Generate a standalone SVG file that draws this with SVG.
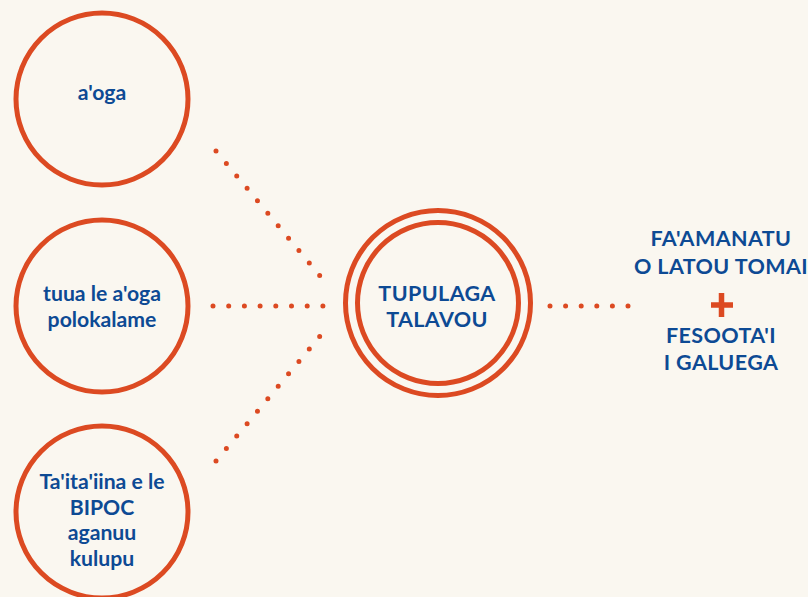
<svg xmlns="http://www.w3.org/2000/svg" width="808" height="597" viewBox="0 0 808 597">
<style>
.ring{fill:none;stroke:#dc4a22;stroke-width:5}
.t{font-family:Lato,"Liberation Sans",sans-serif;font-weight:700;font-size:21.2px;fill:#0d4a94;text-anchor:middle}
.u{font-size:21.5px;letter-spacing:0.4px}
.dots{fill:none;stroke:#dc4a22;stroke-width:5;stroke-linecap:round}
</style>
<rect width="808" height="597" fill="#faf7f0"/>
<g id="connectors">
<path class="dots" d="M216 151L320.5 276.5" stroke-dasharray="0 16.2"/>
<path class="dots" d="M213 306L323.5 306" stroke-dasharray="0 15.7"/>
<path class="dots" d="M216 461L320.5 335.5" stroke-dasharray="0 16.2"/>
<path class="dots" d="M550 306L628.5 306" stroke-dasharray="0 15.6"/>
</g>
<g id="node-aoga">
<circle class="ring" cx="102" cy="99" r="86"/>
<text class="t" x="102" y="100">a'oga</text>
</g>
<g id="node-tuua">
<circle class="ring" cx="102" cy="306" r="86"/>
<text class="t" x="102" y="301">tuua le a'oga</text>
<text class="t" x="102" y="327">polokalame</text>
</g>
<g id="node-taitaiina">
<circle class="ring" cx="102" cy="512" r="86"/>
<text class="t" x="102" y="489">Ta'ita'iina e le</text>
<text class="t" x="102" y="515">BIPOC</text>
<text class="t" x="102" y="540">aganuu</text>
<text class="t" x="102" y="566">kulupu</text>
</g>
<g id="node-tupulaga">
<circle class="ring" cx="438" cy="303" r="92.5"/>
<circle class="ring" cx="438" cy="303" r="80.5"/>
<text class="t u" x="437" y="301">TUPULAGA</text>
<text class="t u" x="437" y="327">TALAVOU</text>
</g>
<g id="node-outcome">
<text class="t u" x="721" y="246">FA'AMANATU</text>
<text class="t u" x="721" y="274">O LATOU TOMAI</text>
<path d="M711 305H733M721.5 293V317" stroke="#dc4a22" stroke-width="5.5" fill="none"/>
<text class="t u" x="721" y="343">FESOOTA'I</text>
<text class="t u" x="721" y="370">I GALUEGA</text>
</g>
</svg>
